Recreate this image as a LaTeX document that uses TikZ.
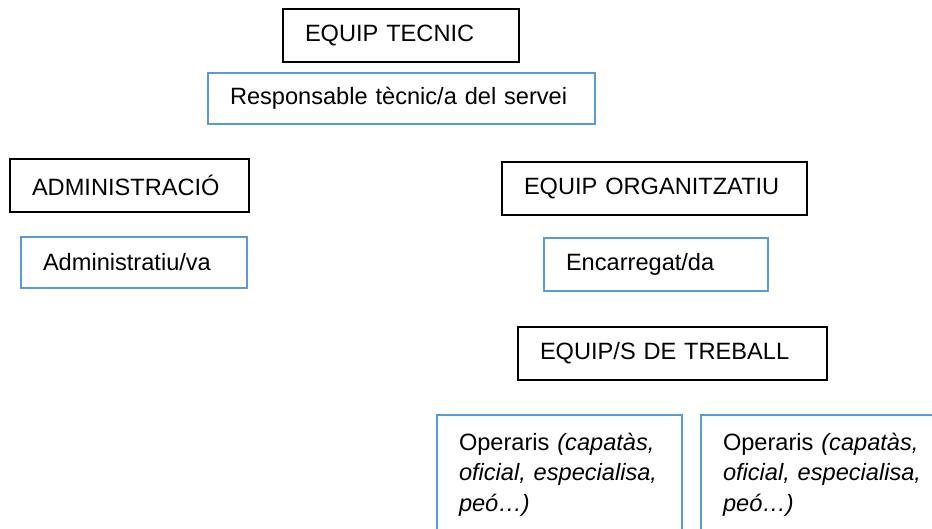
\documentclass[tikz,border=0pt]{standalone}
\usepackage{fontspec}
\setmainfont{Liberation Sans}
\usetikzlibrary{positioning}
\definecolor{roleblue}{RGB}{91,155,213}

\begin{document}
\begin{tikzpicture}[x=1pt,y=-1pt,
		teambox/.style={draw=black, line width=2.5pt, anchor=north west, outer sep=0pt,
			inner xsep=22pt, inner ysep=0pt, align=left, font=\fontsize{23.6}{30.5}\selectfont},
		rolebox/.style={teambox, draw=roleblue},
		sized/.style 2 args={text width=#1, minimum height=#2}]
		\clip (0,0) rectangle (932,529);
		\node [teambox, sized={192pt}{53pt}] (tecnic) at (283,9) {EQUIP TECNIC};
		\node [rolebox, sized={343pt}{51pt}] (responsable) at (208,73) {Responsable tècnic/a del servei};
		\node [teambox, sized={195pt}{53pt}] (admin) at (10,159) {ADMINISTRACIÓ};
		\node [rolebox, sized={182pt}{51pt}] (administratiu) at (21,237) {Administratiu/va};
		\node [teambox, sized={261pt}{53pt}] (organitzatiu) at (502,162) {EQUIP ORGANITZATIU};
		\node [rolebox, sized={180pt}{53pt}] (encarregat) at (544,238) {Encarregat/da};
		\node [teambox, sized={265pt}{53pt}] (treball) at (518,327) {EQUIP/S DE TREBALL};
		\node [rolebox, text width=201pt, inner ysep=18pt] (operaris1) at (437,415)
			{\mbox{Operaris \textit{(capatàs,}}\\\mbox{\textit{oficial, especialisa,}}\\\mbox{\textit{peó…)}}};
		\node [rolebox, text width=201pt, inner ysep=18pt] (operaris2) at (701,415)
			{\mbox{Operaris \textit{(capatàs,}}\\\mbox{\textit{oficial, especialisa,}}\\\mbox{\textit{peó…)}}};
\end{tikzpicture}
\end{document}
